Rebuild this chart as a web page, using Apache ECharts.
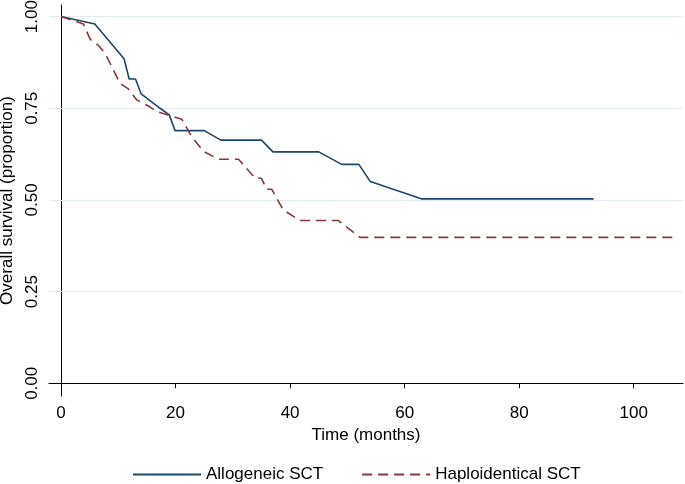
<!DOCTYPE html>
<html>
<head>
<meta charset="utf-8">
<script src="https://cdn.jsdelivr.net/npm/echarts@6/dist/echarts.min.js"></script>
<style>html,body{margin:0;padding:0;background:#fff;}#c{width:685px;height:484px;}</style>
</head>
<body>
<div id="c"></div>
<script>
var xTicks = [0, 20, 40, 60, 80, 100];
var yTicks = [0, 0.25, 0.5, 0.75, 1];
var yGrid = [0.25, 0.5, 0.75, 1];

var alloTime = [0, 5.9, 11, 11.9, 13, 14, 17.3, 18.9, 19.9, 25, 27.9, 35, 37, 45, 49, 52, 54, 62.9, 93];
var alloSurv = [1.0, 0.980, 0.885, 0.830, 0.830, 0.789, 0.750, 0.732, 0.689, 0.689, 0.663, 0.663, 0.631, 0.631, 0.597, 0.597, 0.550, 0.503, 0.503];

var haploTime = [0, 3.9, 5.1, 6.5, 7.7, 10.3, 11.8, 13.2, 15.5, 16.7, 19, 21.1, 22.8, 24.9, 27.5, 31, 33.9, 35, 35.9, 36.8, 38.8, 41.7, 48.4, 52.2, 107];
var haploSurv = [1.0, 0.980, 0.938, 0.922, 0.900, 0.818, 0.802, 0.773, 0.754, 0.741, 0.730, 0.720, 0.673, 0.632, 0.611, 0.611, 0.559, 0.559, 0.529, 0.529, 0.473, 0.444, 0.444, 0.398, 0.398];

function pairs(a, b) { return a.map(function (v, i) { return [v, b[i]]; }); }

var FONT = 'Liberation Sans, Arial, Helvetica, sans-serif';
var chart = echarts.init(document.getElementById('c'));
chart.setOption({
  animation: false,
  backgroundColor: '#fff',
  textStyle: { fontFamily: FONT, color: '#000' },
  grid: { left: 49, right: 2, top: 5, bottom: 88, containLabel: false, outerBoundsMode: 'none' },
  xAxis: {
    type: 'value', min: -2.1, max: 108.6,
    name: 'Time (months)', nameLocation: 'middle', nameGap: 31,
    nameTextStyle: { fontSize: 17, color: '#000', fontFamily: FONT },
    axisLine: { show: true, lineStyle: { color: '#000', width: 1 } },
    axisTick: { show: true, inside: false, length: 5, customValues: xTicks, lineStyle: { color: '#000' } },
    axisLabel: { customValues: xTicks, fontSize: 17, color: '#000', margin: 9, fontFamily: FONT },
    splitLine: { show: false }
  },
  yAxis: {
    type: 'value', min: -0.0346, max: 1.0316,
    name: 'Overall survival (proportion)', nameLocation: 'middle', nameGap: 29, nameRotate: 90,
    nameTextStyle: { fontSize: 17, color: '#000', fontFamily: FONT },
    axisLine: { show: true, lineStyle: { color: '#000', width: 1 } },
    axisTick: { show: true, inside: false, length: 6, customValues: yTicks, lineStyle: { color: '#000' } },
    axisLabel: { customValues: yTicks, rotate: 90, fontSize: 17, color: '#000', margin: 8, fontFamily: FONT,
      formatter: function (v) { return v.toFixed(2); } },
    splitLine: { show: false }
  },
  legend: {
    left: 127, top: 461, itemWidth: 68, itemHeight: 14, itemGap: 38,
    textStyle: { fontSize: 17, color: '#000', fontFamily: FONT },
    itemStyle: { opacity: 0 },
    data: [{ name: 'Allogeneic SCT' }, { name: 'Haploidentical SCT' }]
  },
  series: [
    {
      name: 'Allogeneic SCT', type: 'line', data: pairs(alloTime, alloSurv),
      symbol: 'none', showSymbol: false, color: '#1a476f',
      lineStyle: { color: '#1a476f', width: 1.6 }, z: 3,
      markLine: {
        silent: true, symbol: 'none', label: { show: false }, animation: false,
        lineStyle: { color: '#e2ebef', width: 1.2, type: 'solid' },
        data: yGrid.map(function (v) { return { yAxis: v }; }),
        z: 1
      }
    },
    {
      name: 'Haploidentical SCT', type: 'line', data: pairs(haploTime, haploSurv),
      symbol: 'none', showSymbol: false, color: '#90353b',
      lineStyle: { color: '#90353b', width: 1.6, type: [10, 6] }, z: 3
    }
  ]
});
</script>
</body>
</html>
